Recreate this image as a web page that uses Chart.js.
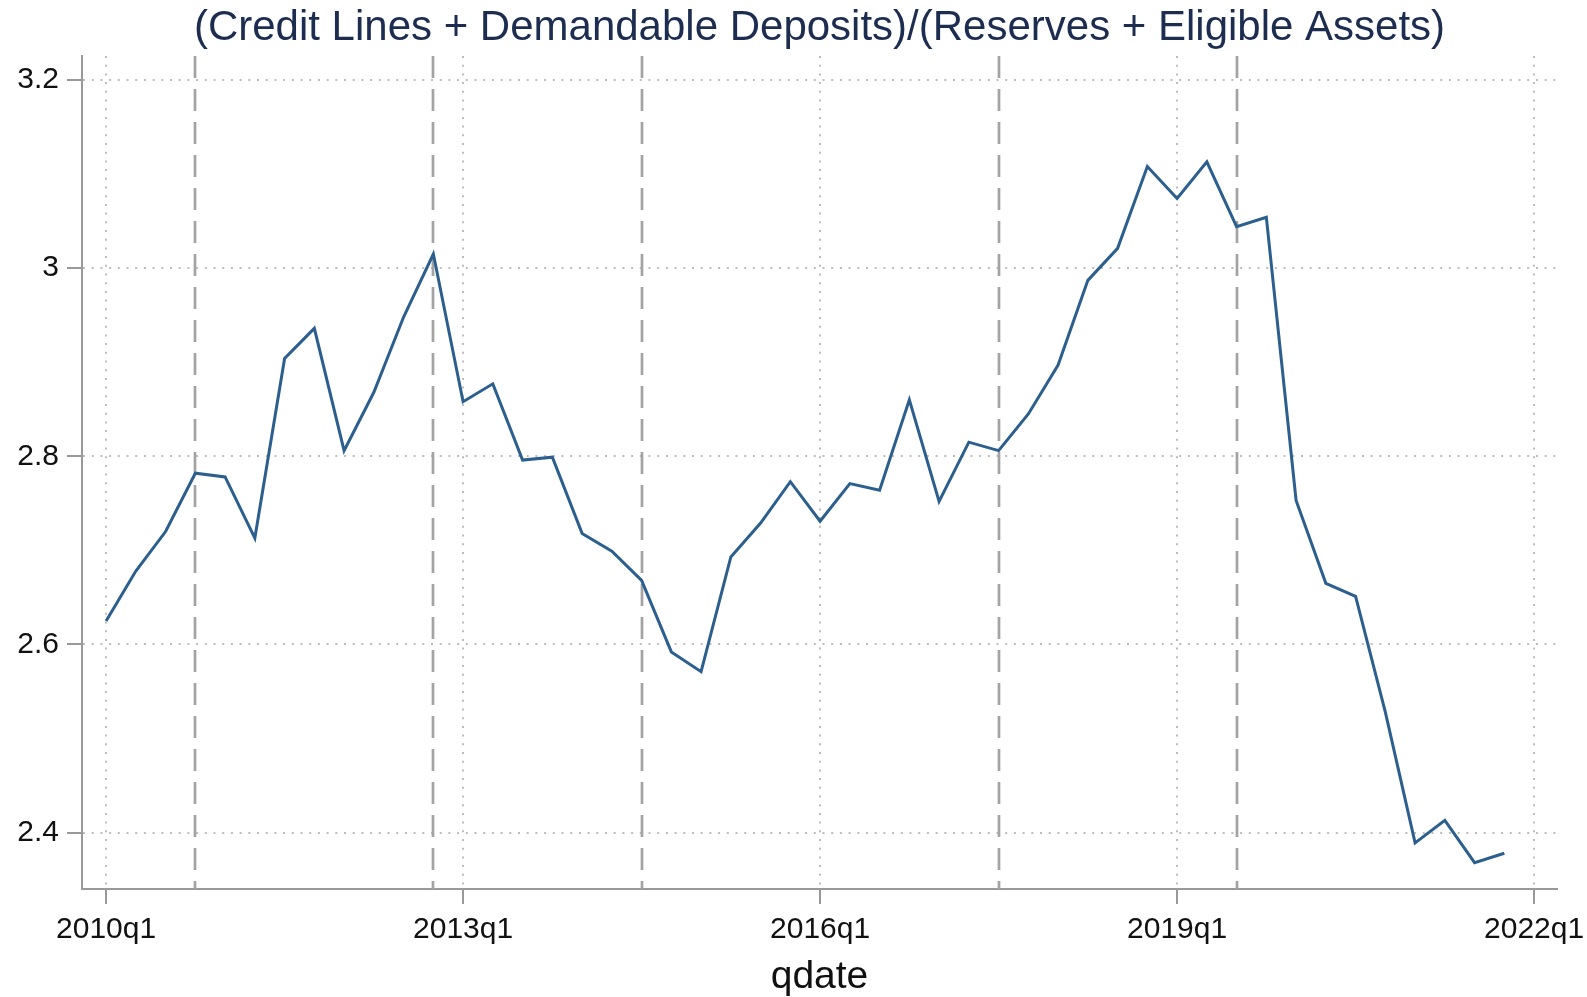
<!DOCTYPE html>
<html>
<head>
<meta charset="utf-8">
<title>qdate ratio</title>
<script src="https://cdn.jsdelivr.net/npm/chart.js@4.4.1/dist/chart.umd.min.js"></script>
<style>
    html, body { margin: 0; padding: 0; background: #fff; }
    #wrap { width: 1587px; height: 997px; }
</style>
</head>
<body>
<div id="wrap"><canvas id="ratioChart" width="1587" height="997"></canvas></div>
<script>
/* ============ DATOS ============ */

const firstQuarter = "2010q1";

// (credit lines + demandable deposits) / (reserves + eligible assets), 2010q1 .. 2021q4
const ratio = [
    2.625, 2.678, 2.720, 2.782, 2.778, 2.713, 2.904, 2.936,
    2.806, 2.868, 2.948, 3.015, 2.858, 2.877, 2.796, 2.799,
    2.718, 2.699, 2.668, 2.592, 2.571, 2.693, 2.729, 2.773,
    2.731, 2.771, 2.764, 2.860, 2.752, 2.815, 2.806, 2.845,
    2.897, 2.987, 3.021, 3.108, 3.074, 3.113, 3.044, 3.054,
    2.753, 2.665, 2.651, 2.528, 2.389, 2.413, 2.368, 2.378
];

const xTickLabels = ["2010q1", "2013q1", "2016q1", "2019q1", "2022q1"];
const yTicks = [2.4, 2.6, 2.8, 3.0, 3.2];

// quarters marked with a dashed vertical line
const eventQuarters = ["2010q4", "2012q4", "2014q3", "2017q3", "2019q3"];

/* ============ HELPERS ============ */

function quarterNumber(q) {
    const [year, n] = q.split("q").map(Number);
    return year * 4 + n - 1;
}

function quarterIndex(q) {
    return quarterNumber(q) - quarterNumber(firstQuarter);
}

const FONT = "'Liberation Sans', Arial, Helvetica, sans-serif";
const AXIS_GREY = "#999999";
const GRID_GREY = "#bdbdbd";

const eventLines = {
    id: "eventLines",
    beforeDatasetsDraw(chart) {
        const { ctx, chartArea, scales: { x } } = chart;
        ctx.save();
        ctx.strokeStyle = "#a3a3a3";
        ctx.lineWidth = 2.7;
        ctx.setLineDash([22, 11]);
        eventQuarters.forEach(q => {
            const px = Math.round(x.getPixelForValue(quarterIndex(q)));
            ctx.beginPath();
            ctx.moveTo(px, chartArea.top);
            ctx.lineTo(px, chartArea.bottom);
            ctx.stroke();
        });
        ctx.restore();
    }
};

/* ============ GRAFICO ============ */

function initRatioChart() {
    const canvas = document.getElementById("ratioChart");
    if (!canvas) return;

    new Chart(canvas, {
        type: "line",
        data: {
            datasets: [{
                label: "ratio",
                data: ratio.map((v, i) => ({ x: i, y: v })),
                borderColor: "#2c5f8d",
                borderWidth: 3,
                tension: 0,
                pointRadius: 0,
                fill: false
            }]
        },
        options: {
            responsive: false,
            devicePixelRatio: 1,
            animation: false,
            layout: { padding: { top: 0, right: 30, bottom: 0, left: 0 } },
            plugins: {
                legend: { display: false },
                tooltip: { enabled: false },
                title: {
                    display: true,
                    fullSize: false,
                    text: "(Credit Lines + Demandable Deposits)/(Reserves + Eligible Assets)",
                    color: "#1d2d50",
                    font: { family: FONT, size: 42, weight: "normal", lineHeight: 1.2 },
                    padding: { top: 2.8, bottom: 2.8 }
                }
            },
            scales: {
                x: {
                    type: "linear",
                    min: -0.81,
                    max: 48.77,
                    afterBuildTicks: s => { s.ticks = xTickLabels.map(l => ({ value: quarterIndex(l) })); },
                    afterFit: s => {
                        s.height = 108;
                        s.paddingLeft = 0;
                        s.paddingRight = 0;
                    },
                    ticks: {
                        autoSkip: false,
                        maxRotation: 0,
                        padding: 7.6,
                        color: "#111",
                        font: { family: FONT, size: 30 },
                        callback: v => xTickLabels.find(l => quarterIndex(l) === v) || ""
                    },
                    grid: {
                        color: GRID_GREY,
                        lineWidth: 2,
                        tickLength: 15,
                        tickColor: AXIS_GREY,
                        tickWidth: 2,
                        tickBorderDash: []
                    },
                    border: { color: AXIS_GREY, width: 2, dash: [2, 6.7] },
                    title: {
                        display: true,
                        text: "qdate",
                        color: "#111",
                        font: { family: FONT, size: 39, lineHeight: 1 },
                        padding: { top: 0, bottom: 0 }
                    }
                },
                y: {
                    type: "linear",
                    min: 2.34,
                    max: 3.2255,
                    afterBuildTicks: s => { s.ticks = yTicks.map(v => ({ value: v })); },
                    afterFit: s => { s.width = 82; },
                    ticks: {
                        padding: 8,
                        color: "#111",
                        font: { family: FONT, size: 30 },
                        callback: v => String(Number(v.toFixed(1)))
                    },
                    grid: {
                        color: GRID_GREY,
                        lineWidth: 2,
                        tickLength: 15,
                        tickColor: AXIS_GREY,
                        tickWidth: 2,
                        tickBorderDash: []
                    },
                    border: { color: AXIS_GREY, width: 2, dash: [2, 6.7] }
                }
            }
        },
        plugins: [eventLines]
    });
}

document.addEventListener("DOMContentLoaded", initRatioChart);
</script>
</body>
</html>
